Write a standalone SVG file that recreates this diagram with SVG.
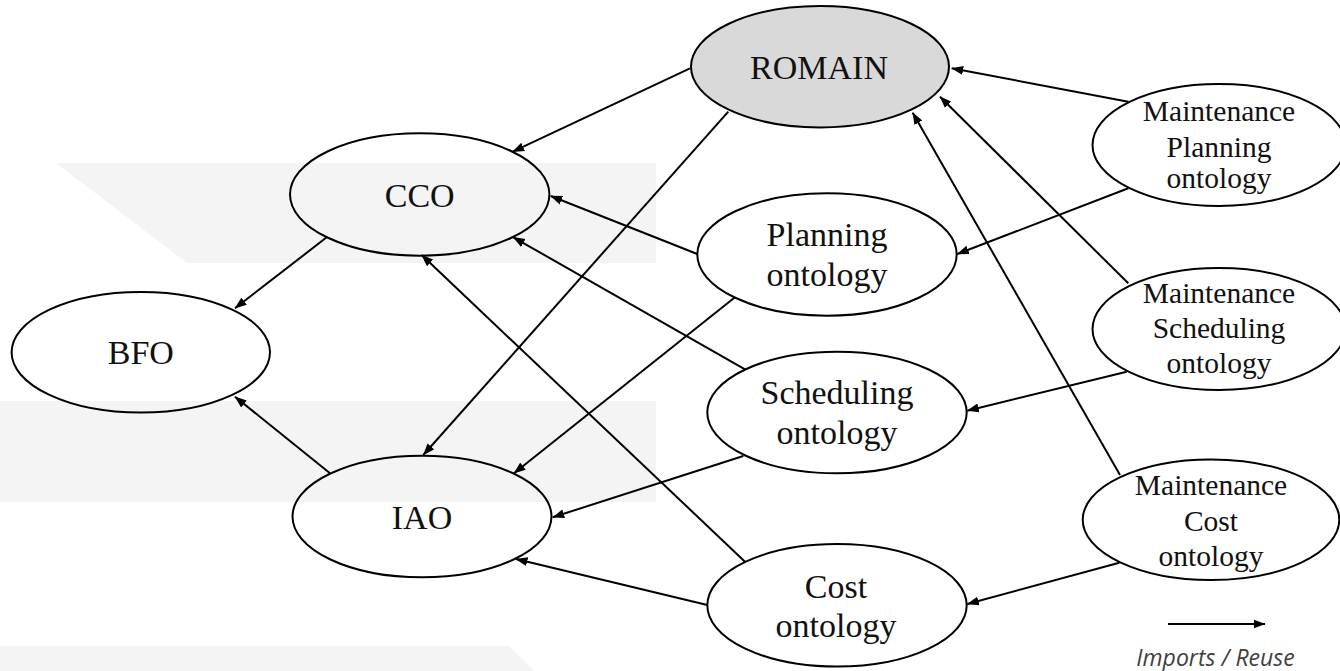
<svg xmlns="http://www.w3.org/2000/svg" width="1340" height="671" viewBox="0 0 1340 671">
<style>
.node{fill:none;stroke:#000;stroke-width:2}
.romain{fill:#d9d9d9;stroke:#000;stroke-width:2}
.edge{stroke:#000;stroke-width:2;fill:none;marker-end:url(#arr)}
.lbl{font-family:"Liberation Serif","Times New Roman",serif;font-size:34px;fill:#111;text-anchor:middle}
.sm{font-size:29.5px}
.band{fill:#f4f4f4}
.legend{font-family:"Open Sans","Liberation Sans",sans-serif;font-style:italic;font-size:23px;fill:#404040;text-anchor:middle}
</style>
<defs>
<marker id="arr" markerUnits="userSpaceOnUse" viewBox="0 0 12 10" markerWidth="12" markerHeight="10" refX="11.5" refY="5" orient="auto">
<path d="M0,0.5 L12,5 L0,9.5 z" fill="#000"/>
</marker>
</defs>
<rect width="1340" height="671" fill="#fff"/>
<g id="background">
<polygon class="band" points="56,163 656,163 656,263 187,263"/>
<rect class="band" x="0" y="401" width="656" height="101"/>
<polygon class="band" points="0,646 509,646 535,671 0,671"/>
</g>
<g id="connectors">
<line class="edge" x1="690" y1="68.3" x2="512.7" y2="151.7"/>
<line class="edge" x1="728.3" y1="111.7" x2="423.3" y2="455"/>
<line class="edge" x1="326.7" y1="237.3" x2="235" y2="308.3"/>
<line class="edge" x1="330" y1="473.3" x2="235" y2="396.7"/>
<line class="edge" x1="697.3" y1="254" x2="550.7" y2="196"/>
<line class="edge" x1="735" y1="297.3" x2="514" y2="473.3"/>
<line class="edge" x1="745" y1="369.3" x2="513.3" y2="237.3"/>
<line class="edge" x1="743.3" y1="456" x2="552.7" y2="517.3"/>
<line class="edge" x1="745" y1="561.7" x2="421.7" y2="255"/>
<line class="edge" x1="707.3" y1="605" x2="516" y2="559"/>
<line class="edge" x1="1128.3" y1="101.7" x2="951.7" y2="68.3"/>
<line class="edge" x1="1128.3" y1="188.3" x2="957.3" y2="254"/>
<line class="edge" x1="1128.3" y1="283.3" x2="940" y2="96.7"/>
<line class="edge" x1="1126.7" y1="371.7" x2="967.3" y2="410.7"/>
<line class="edge" x1="1120" y1="475" x2="912.7" y2="112.7"/>
<line class="edge" x1="1119.3" y1="562.7" x2="967.3" y2="604"/>
</g>
<g id="node-romain">
<ellipse class="romain" cx="820" cy="66.7" rx="129" ry="60.7"/>
<text class="lbl" x="819" y="79">ROMAIN</text>
</g>
<g id="node-cco">
<ellipse class="node" cx="419.7" cy="194.5" rx="129.7" ry="61.2"/>
<text class="lbl" x="419.7" y="207.3">CCO</text>
</g>
<g id="node-bfo">
<ellipse class="node" cx="140.8" cy="352.3" rx="129.2" ry="60.3"/>
<text class="lbl" x="140.8" y="364">BFO</text>
</g>
<g id="node-iao">
<ellipse class="node" cx="422" cy="516.5" rx="129.5" ry="60.8"/>
<text class="lbl" x="422" y="529">IAO</text>
</g>
<g id="node-planning">
<ellipse class="node" cx="827" cy="254.5" rx="129.7" ry="61.2"/>
<text class="lbl" x="827" y="245.7">Planning</text>
<text class="lbl" x="827" y="286">ontology</text>
</g>
<g id="node-scheduling">
<ellipse class="node" cx="837" cy="412.5" rx="129.7" ry="60.8"/>
<text class="lbl" x="837" y="404">Scheduling</text>
<text class="lbl" x="837" y="444">ontology</text>
</g>
<g id="node-cost">
<ellipse class="node" cx="837" cy="605.3" rx="129.7" ry="61.3"/>
<text class="lbl" x="836" y="597.7">Cost</text>
<text class="lbl" x="836" y="637.3">ontology</text>
</g>
<g id="node-maint-planning">
<ellipse class="node" cx="1219" cy="145" rx="126.5" ry="61"/>
<text class="lbl sm" x="1219" y="121">Maintenance</text>
<text class="lbl sm" x="1219" y="156.7">Planning</text>
<text class="lbl sm" x="1219" y="188.3">ontology</text>
</g>
<g id="node-maint-scheduling">
<ellipse class="node" cx="1219" cy="329" rx="126.5" ry="61"/>
<text class="lbl sm" x="1219" y="303.3">Maintenance</text>
<text class="lbl sm" x="1219" y="338.3">Scheduling</text>
<text class="lbl sm" x="1219" y="373.3">ontology</text>
</g>
<g id="node-maint-cost">
<ellipse class="node" cx="1211" cy="519.7" rx="128.3" ry="60.3"/>
<text class="lbl sm" x="1211" y="495">Maintenance</text>
<text class="lbl sm" x="1211" y="530.7">Cost</text>
<text class="lbl sm" x="1211" y="566">ontology</text>
</g>
<g id="legend">
<line class="edge" x1="1168" y1="624" x2="1265" y2="624"/>
<text class="legend" x="1215.5" y="666">Imports / Reuse</text>
</g>
</svg>
